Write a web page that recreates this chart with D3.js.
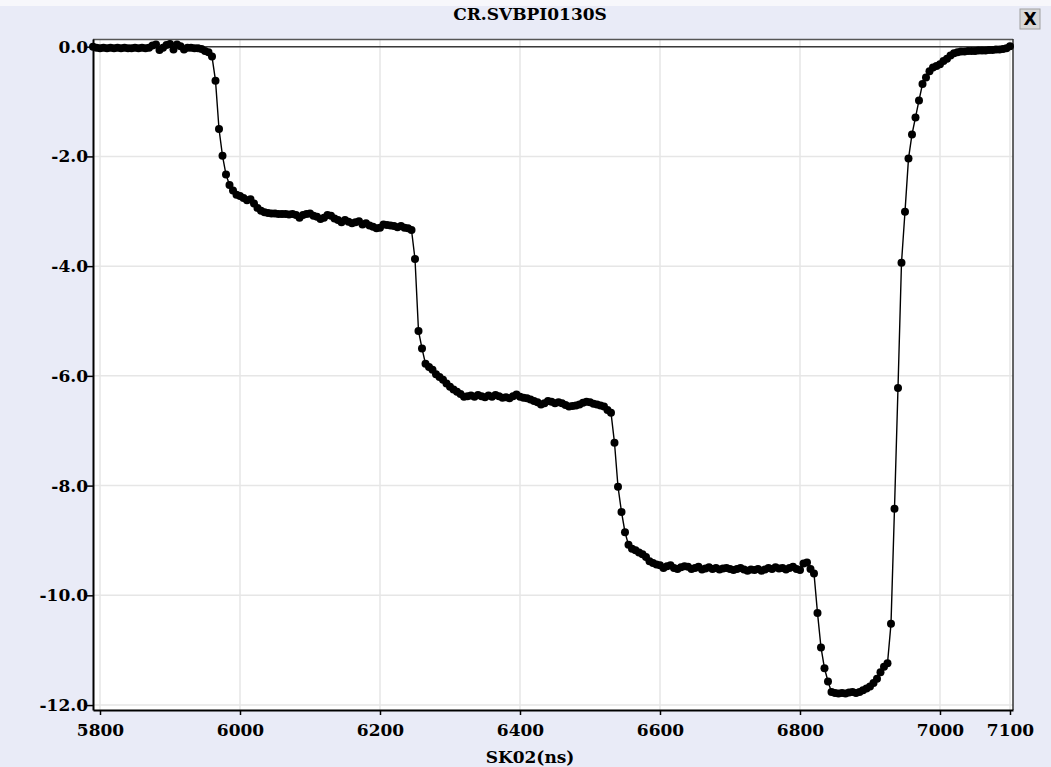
<!DOCTYPE html>
<html>
<head>
<meta charset="utf-8">
<script src="https://cdn.jsdelivr.net/npm/d3@7"></script>
<style>
  html, body { margin: 0; padding: 0; background: #e9ebf7; }
  svg { display: block; }
</style>
</head>
<body>
<div id="chart"></div>
<script>
// Title and axis text
const chartTitle = 'CR.SVBPI0130S'
const xAxisLabel = 'SK02(ns)'

// Tick values and their labels as shown
const xTickValues = [5800, 6000, 6200, 6400, 6600, 6800, 7000, 7100]
const xTickLabels = ['5800', '6000', '6200', '6400', '6600', '6800', '7000', '7100']
const yTickValues = [0, -2, -4, -6, -8, -10, -12]
const yTickLabels = ['0.0', '-2.0', '-4.0', '-6.0', '-8.0', '-10.0', '-12.0']

// Sample times (ns)
const sampleTimes = [
  5790, 5795, 5800, 5805, 5810, 5815, 5820, 5825, 5830, 5835,
  5840, 5845, 5850, 5855, 5860, 5865, 5870, 5875, 5880, 5885,
  5890, 5895, 5900, 5905, 5910, 5915, 5920, 5925, 5930, 5935,
  5940, 5945, 5950, 5955, 5960, 5965, 5970, 5975, 5980, 5985,
  5990, 5995, 6000, 6005, 6010, 6015, 6020, 6025, 6030, 6035,
  6040, 6045, 6050, 6055, 6060, 6065, 6070, 6075, 6080, 6085,
  6090, 6095, 6100, 6105, 6110, 6115, 6120, 6125, 6130, 6135,
  6140, 6145, 6150, 6155, 6160, 6165, 6170, 6175, 6180, 6185,
  6190, 6195, 6200, 6205, 6210, 6215, 6220, 6225, 6230, 6235,
  6240, 6245, 6250, 6255, 6260, 6265, 6270, 6275, 6280, 6285,
  6290, 6295, 6300, 6305, 6310, 6315, 6320, 6325, 6330, 6335,
  6340, 6345, 6350, 6355, 6360, 6365, 6370, 6375, 6380, 6385,
  6390, 6395, 6400, 6405, 6410, 6415, 6420, 6425, 6430, 6435,
  6440, 6445, 6450, 6455, 6460, 6465, 6470, 6475, 6480, 6485,
  6490, 6495, 6500, 6505, 6510, 6515, 6520, 6525, 6530, 6535,
  6540, 6545, 6550, 6555, 6560, 6565, 6570, 6575, 6580, 6585,
  6590, 6595, 6600, 6605, 6610, 6615, 6620, 6625, 6630, 6635,
  6640, 6645, 6650, 6655, 6660, 6665, 6670, 6675, 6680, 6685,
  6690, 6695, 6700, 6705, 6710, 6715, 6720, 6725, 6730, 6735,
  6740, 6745, 6750, 6755, 6760, 6765, 6770, 6775, 6780, 6785,
  6790, 6795, 6800, 6805, 6810, 6815, 6820, 6825, 6830, 6835,
  6840, 6845, 6850, 6855, 6860, 6865, 6870, 6875, 6880, 6885,
  6890, 6895, 6900, 6905, 6910, 6915, 6920, 6925, 6930, 6935,
  6940, 6945, 6950, 6955, 6960, 6965, 6970, 6975, 6980, 6985,
  6990, 6995, 7000, 7005, 7010, 7015, 7020, 7025, 7030, 7035,
  7040, 7045, 7050, 7055, 7060, 7065, 7070, 7075, 7080, 7085,
  7090, 7095, 7100
]

// Signal values at those times
const sampleValues = [
  0.00, -0.02, -0.03, -0.02, -0.03, -0.02, -0.03, -0.02, -0.03, -0.02,
  -0.03, -0.03, -0.02, -0.03, -0.02, -0.03, -0.02, 0.02, 0.04, -0.06,
  -0.02, 0.03, 0.05, -0.05, 0.04, 0.01, -0.05, -0.02, -0.02, -0.03,
  -0.03, -0.04, -0.08, -0.10, -0.18, -0.62, -1.50, -1.99, -2.33, -2.52,
  -2.62, -2.70, -2.72, -2.76, -2.80, -2.78, -2.86, -2.94, -2.99, -3.02,
  -3.03, -3.04, -3.04, -3.05, -3.05, -3.05, -3.06, -3.05, -3.07, -3.12,
  -3.07, -3.05, -3.04, -3.08, -3.10, -3.14, -3.12, -3.07, -3.08, -3.13,
  -3.16, -3.20, -3.16, -3.19, -3.22, -3.20, -3.18, -3.24, -3.22, -3.26,
  -3.28, -3.31, -3.30, -3.24, -3.25, -3.26, -3.27, -3.29, -3.27, -3.30,
  -3.31, -3.34, -3.87, -5.18, -5.50, -5.78, -5.84, -5.89, -5.97, -6.02,
  -6.07, -6.14, -6.20, -6.25, -6.29, -6.33, -6.38, -6.37, -6.36, -6.38,
  -6.35, -6.37, -6.39, -6.36, -6.38, -6.35, -6.37, -6.40, -6.39, -6.41,
  -6.37, -6.34, -6.38, -6.40, -6.41, -6.43, -6.46, -6.48, -6.52, -6.50,
  -6.46, -6.47, -6.50, -6.48, -6.50, -6.53, -6.56, -6.55, -6.54, -6.52,
  -6.49, -6.47, -6.48, -6.51, -6.52, -6.54, -6.56, -6.62, -6.67, -7.22,
  -8.02, -8.48, -8.85, -9.08, -9.15, -9.18, -9.22, -9.25, -9.30, -9.38,
  -9.41, -9.44, -9.45, -9.50, -9.47, -9.45, -9.50, -9.52, -9.49, -9.47,
  -9.48, -9.52, -9.50, -9.48, -9.53, -9.51, -9.49, -9.52, -9.50, -9.53,
  -9.51, -9.50, -9.52, -9.54, -9.52, -9.50, -9.53, -9.55, -9.53, -9.54,
  -9.52, -9.55, -9.53, -9.50, -9.52, -9.49, -9.51, -9.50, -9.53, -9.50,
  -9.48, -9.52, -9.54, -9.42, -9.40, -9.52, -9.60, -10.32, -10.95, -11.33,
  -11.57, -11.76, -11.78, -11.79, -11.78, -11.79, -11.77, -11.76, -11.78, -11.76,
  -11.73, -11.70, -11.66, -11.60, -11.52, -11.40, -11.30, -11.24, -10.52, -8.42,
  -6.22, -3.94, -3.01, -2.04, -1.60, -1.29, -0.98, -0.68, -0.56, -0.45,
  -0.38, -0.35, -0.32, -0.26, -0.22, -0.16, -0.12, -0.10, -0.09, -0.09,
  -0.08, -0.08, -0.08, -0.07, -0.07, -0.07, -0.06, -0.06, -0.05, -0.05,
  -0.04, -0.03, 0.01
]

const W = 1051, H = 767
const plot = { left: 93, right: 1013, top: 39, bottom: 710 }
const font = '"DejaVu Serif", "Liberation Serif", serif'

const svg = d3.select('#chart').append('svg')
  .attr('width', W).attr('height', H)

// window background with a pale strip on top
svg.append('rect').attr('width', W).attr('height', H).attr('fill', '#e9ebf7')
svg.append('rect').attr('width', W).attr('height', 6).attr('fill', '#f7f7fb')

const x = d3.scaleLinear().domain([5790, 7104.3]).range([plot.left, plot.right])
const y = d3.scaleLinear().domain([-12.09, 0.14]).range([plot.bottom, plot.top])

// plot area
svg.append('rect')
  .attr('x', plot.left).attr('y', plot.top)
  .attr('width', plot.right - plot.left).attr('height', plot.bottom - plot.top)
  .attr('fill', '#ffffff')

// grid
const grid = svg.append('g')
grid.selectAll('.vg').data(xTickValues).join('line')
  .attr('x1', d => x(d)).attr('x2', d => x(d))
  .attr('y1', plot.top).attr('y2', plot.bottom)
  .attr('stroke', '#e6e6e6').attr('stroke-width', 1.5)
grid.selectAll('.hg').data(yTickValues).join('line')
  .attr('x1', plot.left).attr('x2', plot.right)
  .attr('y1', d => y(d)).attr('y2', d => y(d))
  .attr('stroke', '#e6e6e6').attr('stroke-width', 1.5)

// zero reference line
svg.append('line')
  .attr('x1', plot.left).attr('x2', plot.right)
  .attr('y1', y(0)).attr('y2', y(0))
  .attr('stroke', '#3a3a3a').attr('stroke-width', 1.5)

// frame (top / right thin)
svg.append('line').attr('x1', plot.left).attr('x2', plot.right)
  .attr('y1', plot.top + 0.5).attr('y2', plot.top + 0.5)
  .attr('stroke', '#555').attr('stroke-width', 1.5)
svg.append('line').attr('x1', plot.right).attr('x2', plot.right)
  .attr('y1', plot.top).attr('y2', plot.bottom)
  .attr('stroke', '#333').attr('stroke-width', 1.5)

// axes
const xAxis = svg.append('g')
  .attr('transform', `translate(0,${plot.bottom})`)
  .call(d3.axisBottom(x).tickValues(xTickValues).tickSize(5).tickSizeOuter(0)
    .tickFormat((d, i) => xTickLabels[i]))
const yAxis = svg.append('g')
  .attr('transform', `translate(${plot.left},0)`)
  .call(d3.axisLeft(y).tickValues(yTickValues).tickSize(6).tickSizeOuter(0)
    .tickFormat((d, i) => yTickLabels[i]))

svg.selectAll('.domain').attr('stroke', '#000').attr('stroke-width', 2)
svg.selectAll('.tick line').attr('stroke', '#000').attr('stroke-width', 1.5)
svg.selectAll('.tick text')
  .style('font-family', font).style('font-size', '17px').style('font-weight', 'bold')
  .attr('fill', '#000')
xAxis.selectAll('.tick text').attr('dy', '0.95em').attr('y', 10)
yAxis.selectAll('.tick text').attr('x', -5)

// series
const pts = sampleTimes.map((t, i) => [t, sampleValues[i]])
svg.append('path')
  .datum(pts)
  .attr('fill', 'none')
  .attr('stroke', '#000')
  .attr('stroke-width', 1.4)
  .attr('d', d3.line().x(d => x(d[0])).y(d => y(d[1])))
svg.append('g').selectAll('circle').data(pts).join('circle')
  .attr('cx', d => x(d[0])).attr('cy', d => y(d[1]))
  .attr('r', 4).attr('fill', '#000')

// title and x label
svg.append('text')
  .attr('x', 530).attr('y', 20)
  .attr('text-anchor', 'middle')
  .style('font-family', font).style('font-size', '17px').style('font-weight', 'bold')
  .text(chartTitle)
svg.append('text')
  .attr('x', 530).attr('y', 763)
  .attr('text-anchor', 'middle')
  .style('font-family', font).style('font-size', '17px').style('font-weight', 'bold')
  .text(xAxisLabel)

// close box
const close = svg.append('g').attr('transform', 'translate(1020,9)')
close.append('rect').attr('width', 20).attr('height', 20)
  .attr('fill', '#d8d8d8').attr('stroke', '#a0a0a0')
close.append('text').attr('x', 10).attr('y', 16).attr('text-anchor', 'middle')
  .style('font-family', '"DejaVu Sans", sans-serif').style('font-size', '17px').style('font-weight', 'bold')
  .text('X')
</script>
</body>
</html>
